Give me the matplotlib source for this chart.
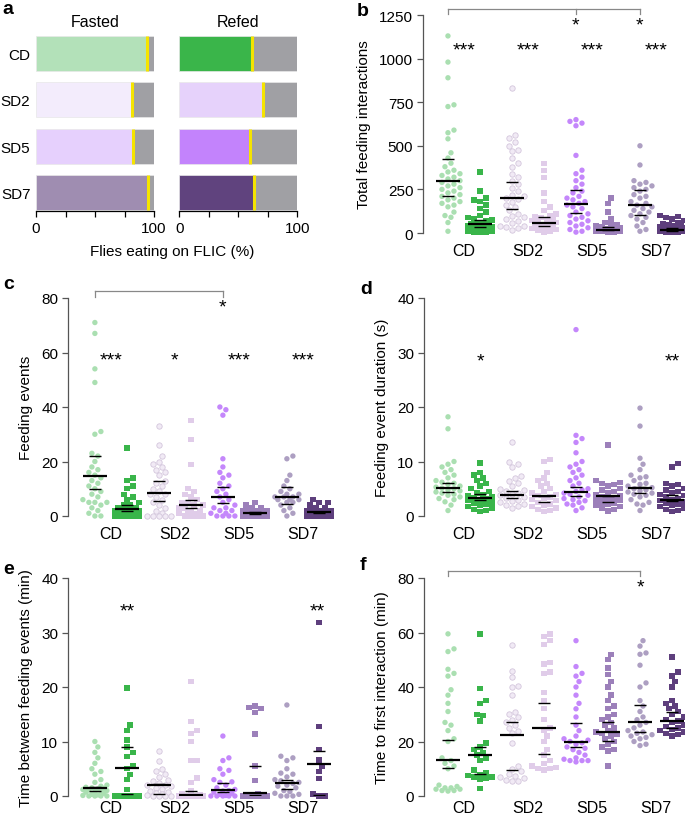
import numpy as np
import matplotlib
matplotlib.use('Agg')
import matplotlib.pyplot as plt

plt.rcParams['font.family'] = ['Liberation Sans', 'DejaVu Sans']

groups = ['CD', 'SD2', 'SD5', 'SD7']

# panel a: % flies eating on FLIC
fasted_pct = [94, 81, 82, 95]
refed_pct = [62, 71, 60, 63]
fasted_bar_colors = ['#b3e1b9', '#f3ecfc', '#e6d0fd', '#9f8db1']
refed_bar_colors = ['#3ab54a', '#e6d2fb', '#c383fc', '#60437e']

# dot colours, order: CD fasted, CD refed, SD2 fasted, SD2 refed, ...
dot_colors = ['#aadfb1', '#39b54a', '#f1eaf5', '#e0cce9',
              '#c487fb', '#9c80ba', '#ad9fc2', '#5e3f7d']
dot_edges = ['none', 'none', '#d3c6dc', 'none', 'none', 'none', 'none', 'none']

# panel b: total feeding interactions
interactions = [
    [1130, 980, 890, 735, 725, 590, 575, 540, 460, 430, 400, 380, 360, 350, 340, 330, 320,
     310, 300, 290, 280, 270, 260, 250, 240, 230, 220, 210, 200, 190, 180, 170, 160, 150,
     120, 100, 90, 60, 10],
    [350, 240, 200, 190, 180, 160, 140, 120, 100, 90, 80, 75, 70, 60, 55, 50, 45, 40, 40,
     35, 30, 30, 25, 20, 20, 15, 15, 10, 10, 5, 5, 5],
    [830, 560, 545, 520, 500, 475, 470, 430, 400, 380, 340, 320, 300, 280, 260, 240, 220,
     210, 200, 195, 180, 160, 150, 130, 110, 100, 90, 80, 70, 60, 40, 40, 35, 30, 20],
    [400, 360, 320, 230, 180, 150, 130, 110, 100, 95, 90, 80, 75, 70, 65, 60, 55, 50, 45,
     40, 35, 30, 25, 20, 15, 10, 5],
    [650, 640, 630, 615, 445, 360, 340, 320, 300, 280, 260, 240, 230, 210, 200, 190, 180,
     170, 160, 150, 140, 120, 110, 100, 90, 80, 70, 60, 50, 40, 30, 20, 10, 5],
    [200, 170, 120, 80, 60, 50, 45, 40, 35, 30, 28, 25, 22, 20, 18, 15, 12, 10, 8, 5, 5],
    [500, 390, 300, 290, 280, 270, 260, 250, 240, 220, 210, 200, 180, 170, 160, 150, 140,
     130, 120, 110, 100, 90, 80, 60, 40, 20, 10],
    [100, 95, 90, 80, 70, 60, 55, 50, 45, 40, 35, 30, 28, 25, 22, 20, 18, 15, 12, 10, 8, 5,
     5, 3],
]
interactions_mid = [300, 50, 200, 60, 165, 20, 160, 20]
interactions_lo = [210, 35, 140, 40, 115, 15, 105, 12]
interactions_hi = [425, 75, 290, 90, 245, 35, 245, 30]

# panel c: feeding events
events = [
    [71, 67, 54, 49, 31, 30, 23, 22, 20, 18, 17, 16, 15, 14, 13, 12, 11, 10, 9, 8, 7, 6, 5,
     5, 5, 4, 3, 2, 1, 0, 0],
    [25, 14, 13, 11, 10, 8, 7, 6, 5, 4, 4, 3, 3, 3, 2, 2, 2, 2, 1, 1, 1, 1, 1, 0, 0, 0, 0, 0],
    [33, 26, 22, 20, 19, 18, 17, 16, 15, 13, 12, 11, 10, 9, 8, 8, 7, 6, 5, 4, 3, 2, 1, 0,
     0, 0, 0, 0],
    [35, 28, 19, 10, 9, 8, 7, 6, 5, 5, 4, 4, 3, 3, 2, 2, 1, 1, 1, 0, 0, 0, 0],
    [40, 39, 37, 21, 18, 16, 15, 14, 12, 11, 10, 9, 8, 7, 6, 5, 4, 3, 3, 2, 2, 1, 1, 0, 0,
     0, 0],
    [5, 4, 3, 3, 2, 2, 2, 2, 1, 1, 1, 1, 1, 1, 0, 0, 0, 0, 0, 0],
    [22, 21, 15, 13, 11, 10, 9, 8, 8, 7, 7, 7, 6, 6, 6, 5, 5, 4, 3, 2, 1, 0],
    [6, 5, 5, 4, 3, 3, 2, 2, 2, 2, 1, 1, 1, 1, 1, 1, 0, 0, 0, 0, 0, 0],
]
events_mid = [14.5, 2.5, 8.5, 4, 7, 1, 6.8, 1.3]
events_lo = [10, 2, 5.5, 3, 4.7, 0.8, 4.3, 1.0]
events_hi = [22, 4, 13, 6, 10.7, 1.3, 10.8, 1.6]

# panel d: feeding event duration (s)
duration = [
    [18.2, 16, 10, 9.5, 9, 8.5, 8, 7.5, 7, 6.5, 6.2, 6, 5.8, 5.5, 5.3, 5.1, 5, 4.8, 4.6,
     4.4, 4.2, 4, 3.8, 3.5, 3.2, 3, 2.6, 2, 1],
    [9.7, 8, 7.5, 7, 6.5, 6, 5.5, 5, 4.5, 4.2, 4, 3.8, 3.5, 3.3, 3.1, 3, 2.8, 2.6, 2.4,
     2.2, 2, 1.8, 1.5, 1.2, 1, 0.8],
    [13.5, 10, 9.5, 9, 7.3, 7, 6.5, 6, 5.5, 5, 4.8, 4.5, 4.2, 4, 3.8, 3.5, 3.3, 3, 2.8,
     2.5, 2.2, 2, 1.8, 1.5],
    [10.4, 10, 8, 7, 6.5, 6, 5.5, 5, 4.5, 4.2, 4, 3.8, 3.5, 3.2, 3, 2.8, 2.5, 2.2, 2, 1.8,
     1.5, 1.2, 1, 0.8],
    [34.2, 14.8, 14.2, 13.5, 11.6, 10, 9.5, 9, 8.5, 8, 7.5, 7, 6.5, 6, 5.5, 5, 4.8, 4.5,
     4.2, 4, 3.8, 3.5, 3.2, 3, 2.8, 2.5, 2.2, 2, 1.5, 1],
    [13, 6.5, 6.2, 6, 5.8, 5.5, 5, 4.8, 4.5, 4.2, 4, 3.8, 3.6, 3.4, 3.2, 3, 2.8, 2.6, 2.4,
     2.2, 2, 1.8, 1.5, 1.2, 0.9],
    [19.8, 16.5, 10.6, 9.5, 8.5, 7.5, 7.2, 7, 6.5, 6, 5.8, 5.5, 5.2, 5, 4.8, 4.6, 4.4, 4.2,
     4, 3.8, 3.5, 3, 2.5, 2.2, 2, 1],
    [9.6, 9, 6, 5.8, 5.5, 5, 4.8, 4.5, 4.2, 4, 3.8, 3.5, 3.2, 3, 2.8, 2.6, 2.4, 2.2, 2, 1.8,
     1.5, 1.2, 1, 0.8],
]
duration_mid = [5.2, 3.3, 3.8, 3.6, 4.4, 3.6, 5.1, 2.9]
duration_lo = [4.4, 2.9, 3.3, 2.6, 3.6, 2.5, 4.3, 2.8]
duration_hi = [6.0, 4.0, 4.5, 3.7, 5.4, 3.7, 5.4, 3.9]

# panel e: time between feeding events (min)
interval = [
    [10, 9, 8, 7, 6, 5, 4.5, 4, 3, 2.5, 2, 1.8, 1.6, 1.5, 1.4, 1.3, 1.2, 1.1, 1, 0.9, 0.8,
     0.7, 0.5, 0.3, 0.2, 0.1, 0, 0, 0, 0],
    [19.8, 13, 12, 10.3, 9, 8, 7.2, 5.5, 5, 4, 3, 1.2, 0, 0, 0, 0, 0],
    [8.3, 6.5, 5, 4.5, 4, 3.5, 3, 2.7, 2.3, 2, 2, 1.8, 1.5, 1.2, 1, 0.7, 0.5, 0.3, 0.2, 0,
     0, 0, 0],
    [21, 13.7, 12, 11.5, 10, 6.5, 6.5, 3.3, 2.5, 1, 0.5, 0.3, 0.1, 0, 0, 0, 0, 0, 0],
    [11, 7, 6.5, 5, 4.7, 4, 3, 2.6, 2.5, 2, 1.5, 1.2, 1, 0.9, 0.7, 0.5, 0.3, 0.1, 0, 0, 0,
     0, 0],
    [16.5, 16.2, 16, 15.3, 11.4, 5.5, 2.8, 0.5, 0.3, 0.2, 0.1, 0, 0, 0, 0, 0, 0, 0],
    [16.7, 7.3, 7, 6.5, 5, 4.2, 4, 3.5, 3, 2.8, 2.5, 2.3, 2, 1.8, 1.5, 1, 0.8, 0.5, 0.3, 0,
     0, 0],
    [31.8, 12.8, 8.5, 6.6, 5.5, 4.5, 3.2, 0.4, 0, 0],
]
interval_mid = [1.4, 5.1, 2.1, 0.1, 1.1, 0.6, 2.4, 5.8]
interval_lo = [0.9, 0.4, 0.4, 0.1, 0.8, 0.2, 1.3, 0.1]
interval_hi = [1.6, 9.0, 2.2, 0.9, 2.3, 5.5, 2.9, 8.2]

# panel f: time to first interaction (min)
latency = [
    [59.5, 54, 53, 46.5, 45, 44, 39, 37, 34, 31, 27, 26, 24, 21, 20, 14, 13, 12, 11, 10, 4,
     3.5, 3, 3, 2.5, 2.5, 2, 2, 1.8],
    [59.5, 39.5, 35, 34, 30, 29.5, 27.5, 19.5, 18, 17, 16, 15, 14, 13, 9.5, 8.5, 8, 7.5, 7,
     7, 6.5, 6, 2.8],
    [55.5, 46, 43.5, 40.5, 40, 37, 31, 30, 29, 28, 27, 26, 25, 24, 23, 19.5, 11, 10, 9, 8,
     7.5, 7, 6.5, 6, 5.5, 5.5],
    [59.5, 58.5, 57, 55.5, 49, 48.5, 45.5, 45, 38, 35, 32, 28, 25, 24, 22, 20, 17, 15, 13,
     12, 11, 10.5, 10, 10, 9.5],
    [57, 47.5, 45, 44, 42, 40, 37, 34, 32, 29, 26, 24, 22, 21, 20.5, 20, 19.5, 19, 18, 17.5,
     17, 16, 15, 14, 13.5, 13, 13, 13, 12.5],
    [52, 50, 47, 44.5, 42, 40, 37, 35, 33, 32, 30, 29, 28, 27, 26, 25, 24, 23.5, 23, 22.5,
     22, 21, 20, 19, 18, 17, 16.5, 11],
    [57, 55, 52.5, 52, 48, 41.5, 40, 35, 33, 31, 29, 28, 27, 26, 25, 24, 23.5, 23, 22.5, 22,
     21.5, 21, 20, 19, 18.5],
    [51, 45.5, 44, 42, 40, 35, 34, 33, 32, 31, 30, 29, 28, 27.5, 27, 26, 25.5, 25, 24.5, 24,
     23.5, 23, 22.5, 22],
]
latency_mid = [13.3, 15, 22.5, 25, 20, 23.5, 27, 27.6]
latency_lo = [10.2, 8, 9.4, 15.5, 17.8, 20.2, 23.5, 25]
latency_hi = [20.5, 18, 27.3, 34, 26.8, 27.3, 33.5, 31]

W, H = 685, 820
AX_H = 218  # plot height in pixels for panels b-f
PX_X = 32   # pixels per x unit


def swarm(vals, ppy, d=6.0, maxw=0.46):
    """simple beeswarm: x offsets (data units) for sorted values"""
    vals = np.asarray(vals, float)
    order = np.argsort(vals)
    placed = []
    offs = np.zeros(len(vals))
    limit = maxw * PX_X
    cands = [0.0]
    k = 1
    while k * d / 2 <= limit:
        cands += [k * d / 2, -k * d / 2]
        k += 1
    for idx in order:
        y = vals[idx] * ppy
        best, bestd, best0 = None, -1, 0.0
        for c in cands:
            mind = min([np.hypot(c - px, y - py) for px, py in placed] or [99])
            if mind >= d:
                best = c
                break
            if mind > bestd:
                bestd, best0 = mind, c
        if best is None:
            best = best0
        placed.append((best, y))
        offs[idx] = best / PX_X
    return offs


def dot_panel(rect, vals, mid, lo, hi, ytop, yticks, ylabel, xlim, xpad=7):
    ax = fig.add_axes([rect[0] / W, 1 - (rect[1] + AX_H) / H,
                       (xlim[1] - xlim[0]) * PX_X / W, AX_H / H])
    ax.set_xlim(xlim)
    ax.set_ylim(0, ytop)
    ppy = AX_H / ytop
    for i, v in enumerate(vals):
        off = swarm(v, ppy)
        ax.scatter(i + off, v, s=15, marker='o' if i % 2 == 0 else 's',
                   color=dot_colors[i], edgecolors=dot_edges[i], linewidths=0.6,
                   clip_on=False, zorder=2)
        ax.hlines(mid[i], i - 0.37, i + 0.37, color='black', lw=1.6, zorder=3)
        ax.hlines([lo[i], hi[i]], i - 0.18, i + 0.18, color='black', lw=1.0, zorder=3)
    for s in ['top', 'right', 'bottom']:
        ax.spines[s].set_visible(False)
    ax.spines['left'].set_color('#555555')
    ax.spines['left'].set_linewidth(0.9)
    ax.set_yticks(yticks)
    ax.tick_params(axis='y', length=4, width=0.9, color='#555555', labelsize=11, pad=3)
    ax.set_xticks([0.5, 2.5, 4.5, 6.5])
    ax.set_xticklabels(groups)
    ax.tick_params(axis='x', length=0, labelsize=11.5, pad=xpad)
    ax.set_ylabel(ylabel, fontsize=11, labelpad=6)
    return ax


def stars(ax, xs, y, txt):
    for x in xs:
        ax.text(x, y, txt, ha='center', va='center', fontsize=14)


def bracket(ax, x0, x1, y, drop, xs_tick):
    ax.plot([x0, x1], [y, y], color='#888888', lw=0.9, clip_on=False)
    for x in xs_tick:
        ax.plot([x, x], [y, y - drop], color='#888888', lw=0.9, clip_on=False)


fig = plt.figure(figsize=(W / 100, H / 100), dpi=100)

# ---- panel a ----
for k, (pct, cols, title, left) in enumerate([(fasted_pct, fasted_bar_colors, 'Fasted', 36),
                                               (refed_pct, refed_bar_colors, 'Refed', 179.3)]):
    ax = fig.add_axes([left / W, 1 - 212 / H, 118 / W, 180.6 / H])
    ypos = np.arange(len(groups))
    ax.barh(ypos, pct, height=0.76, color=cols, edgecolor='#e8e8e8', linewidth=0.5)
    ax.barh(ypos, [100 - p for p in pct], left=pct, height=0.76, color='#a0a0a4',
            edgecolor='#e8e8e8', linewidth=0.5)
    ax.vlines(pct, ypos - 0.38, ypos + 0.38, color='#f5e400', lw=2.2, zorder=3)
    ax.set_xlim(0, 100)
    ax.set_ylim(3.4, -0.5)
    for s in ['top', 'right', 'left']:
        ax.spines[s].set_visible(False)
    ax.spines['bottom'].set_linewidth(0.9)
    ax.set_xticks([0, 100])
    ax.set_xticks([25, 50, 75], minor=True)
    ax.tick_params(axis='x', which='both', length=4, width=0.9, labelsize=11)
    ax.set_title(title, fontsize=11.5, pad=3)
    ax.set_yticks(ypos)
    if k == 0:
        ax.set_yticklabels(groups, fontsize=11)
        ax.tick_params(axis='y', length=0, pad=4)
    else:
        ax.set_yticklabels([])
        ax.tick_params(axis='y', length=0)
fig.text(172 / W, 1 - 252 / H, 'Flies eating on FLIC (%)', ha='center', va='center',
         fontsize=11)

# ---- panel b ----
axb = dot_panel((423, 16), interactions, interactions_mid, interactions_lo, interactions_hi,
                1250, [0, 250, 500, 750, 1000, 1250], 'Total feeding interactions',
                (-0.78, 7.4))
stars(axb, [0.5, 2.5, 4.5, 6.5], 1050, '***')
stars(axb, [4, 6], 1190, '*')
bracket(axb, 0, 6, 1284, 29, [0, 4, 6])

# ---- panel c ----
axc = dot_panel((68, 299), events, events_mid, events_lo, events_hi,
                80, [0, 20, 40, 60, 80], 'Feeding events', (-0.84, 7.65))
stars(axc, [0.5, 4.5, 6.5], 57.2, '***')
stars(axc, [2.5], 57.2, '*')
stars(axc, [4], 76.8, '*')
bracket(axc, 0, 4, 82.4, 2, [0, 4])

# ---- panel d ----
axd = dot_panel((424, 299), duration, duration_mid, duration_lo, duration_hi,
                40, [0, 10, 20, 30, 40], 'Feeding event duration (s)', (-0.75, 7.4))
stars(axd, [1], 28.4, '*')
stars(axd, [7], 28.4, '**')

# ---- panel e ----
axe = dot_panel((68, 579), interval, interval_mid, interval_lo, interval_hi,
                40, [0, 10, 20, 30, 40], 'Time between feeding events (min)', (-0.84, 7.65),
                xpad=3)
stars(axe, [1, 6.95], 34.0, '**')

# ---- panel f ----
axf = dot_panel((424, 579), latency, latency_mid, latency_lo, latency_hi,
                80, [0, 20, 40, 60, 80], 'Time to first interaction (min)', (-0.75, 7.4),
                xpad=3)
stars(axf, [6], 76.6, '*')
bracket(axf, 0, 6, 82.6, 2, [0, 6])

# panel letters
for lab, x, y in [('a', 2, 10), ('b', 357, 12), ('c', 3, 285), ('d', 360, 290),
                  ('e', 3, 570), ('f', 360, 566)]:
    fig.text(x / W, 1 - y / H, lab, fontsize=14, fontweight='bold', ha='left', va='center')

fig.savefig('out.png', dpi=100)
